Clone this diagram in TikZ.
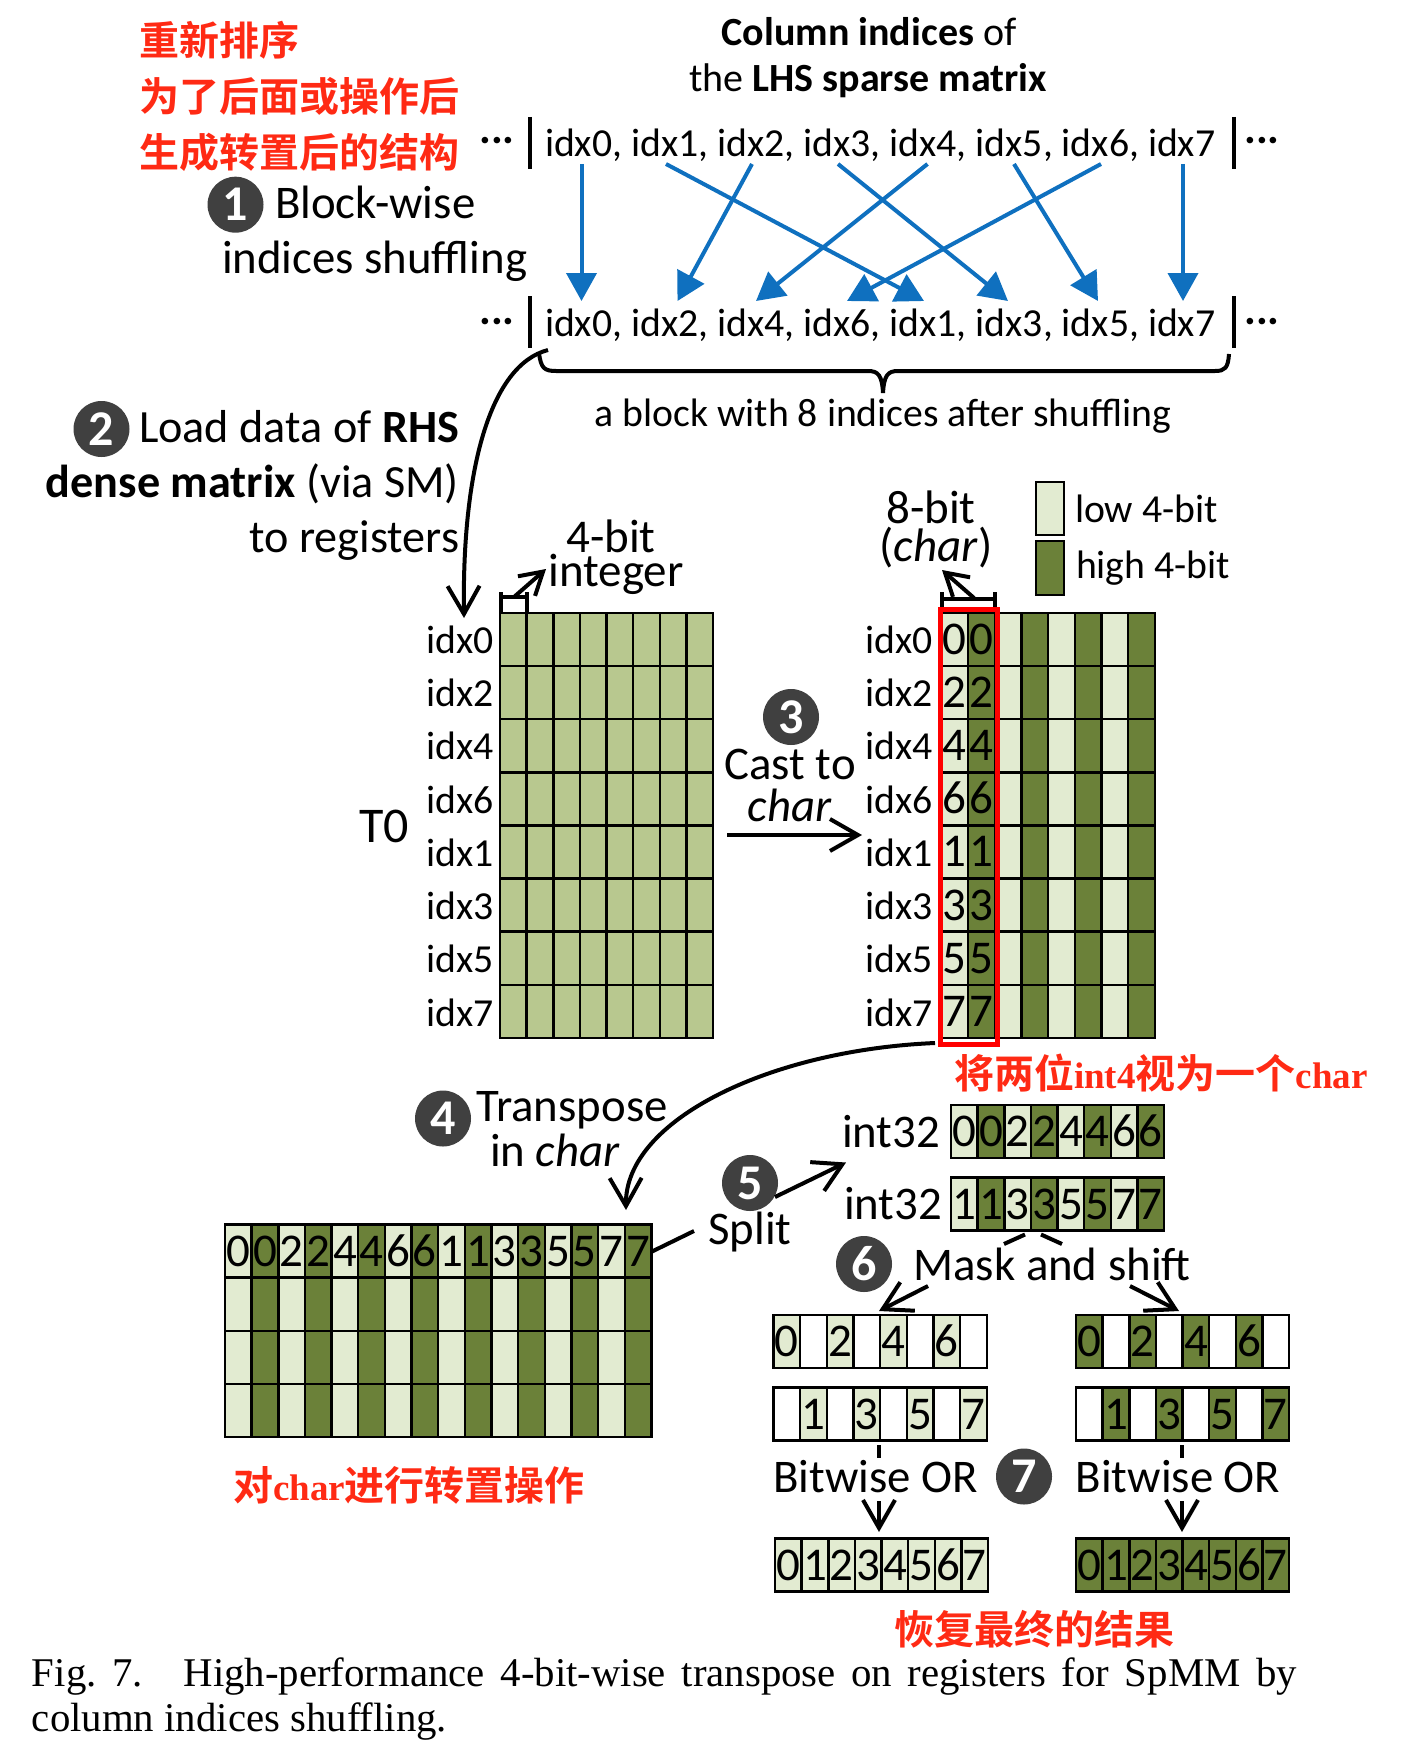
\documentclass[tikz,border=0pt]{standalone}
\usepackage{fontspec}
\setmainfont{Carlito}
\newfontfamily\capfont{Liberation Serif}
\newfontfamily\cjk[BoldFont={Noto Sans CJK SC Bold}]{Noto Sans CJK SC}
\newcommand{\latinnote}{\capfont\fontsize{18.5}{24}\selectfont}
\newcommand{\hannote}{\cjk\fontsize{20}{24}\selectfont}
\usetikzlibrary{arrows.meta}
\definecolor{lowbit}{HTML}{E2EBD1}
\definecolor{highbit}{HTML}{6B8139}
\definecolor{midbit}{HTML}{B8C88F}
\definecolor{shuffleblue}{HTML}{0F70BF}
\definecolor{noteorange}{HTML}{FF2A14}
\definecolor{stepgray}{HTML}{404040}
\tikzset{
  lbl/.style={inner sep=0pt, outer sep=0pt, font=\fontsize{23.4}{27}\selectfont},
  loadlbl/.style={inner sep=0pt, outer sep=0pt, font=\fontsize{23.1}{27}\selectfont},
  idxlbl/.style={inner sep=0pt, outer sep=0pt, font=\fontsize{19.85}{24}\selectfont},
  titlelbl/.style={inner sep=0pt, outer sep=0pt, font=\fontsize{20}{24}\selectfont},
  bitlbl/.style={inner sep=0pt, outer sep=0pt, font=\fontsize{23.5}{26}\selectfont},
  dotslbl/.style={inner sep=0pt, outer sep=0pt, font=\fontsize{22}{26}\selectfont\bfseries},
  note/.style={inner sep=0pt, outer sep=0pt, text=noteorange, font=\bfseries},
  stepdot/.style={circle, fill=stepgray, text=white, inner sep=0pt, outer sep=0pt, minimum size=28pt, font=\fontsize{25}{28}\selectfont\bfseries},
  cell/.style={draw=black, line width=1.2pt, inner sep=0pt, outer sep=0pt, minimum width=13.325pt, minimum height=26.55pt, text height=15pt, text depth=0pt, font=\fontsize{23.5}{26}\selectfont},
  bluearrow/.style={draw=shuffleblue, line width=2pt, -{Triangle[length=14pt,width=15pt]}},
  openarrow/.style={draw=black, line width=2pt, -{Straight Barb[length=14pt,width=16pt]}},
  shortarrow/.style={draw=black, line width=2pt, -{Straight Barb[length=11pt,width=13pt]}},
  plainline/.style={draw=black, line width=2pt}
}
\newcommand{\regrow}[4]{
  \foreach \c/\d [count=\i from 0] in {#4} {
    \node[cell, fill=\c, anchor=north west] (#1c\i) at (#2+\i*26.65,#3) {\d};
  }
}
\begin{document}
\begin{tikzpicture}[x=0.5pt,y=-0.5pt]
  \useasboundingbox (0,0) rectangle (1420,1744);

  \node[note, anchor=west] (notea) at (139,40) {\hannote 重新排序};
  \node[note, anchor=west] (noteb) at (139,96) {\hannote 为了后面或操作后};
  \node[note, anchor=west] (notec) at (139,152) {\hannote 生成转置后的结构};

  \node[titlelbl] (titlea) at (869,32) {\textbf{Column indices} of};
  \node[titlelbl] (titleb) at (868,81) {the \textbf{LHS sparse matrix}};

  \node[idxlbl, anchor=west] (toprow) at (545,145) {idx0, idx1, idx2, idx3, idx4, idx5, idx6, idx7};
  \node[idxlbl, anchor=west] (botrow) at (545,325) {idx0, idx2, idx4, idx6, idx1, idx3, idx5, idx7};
  \node[dotslbl] (topdotsl) at (497,141) {...};
  \node[dotslbl] (topdotsr) at (1262,141) {...};
  \node[dotslbl] (botdotsl) at (497,322) {...};
  \node[dotslbl] (botdotsr) at (1262,322) {...};

  \coordinate (topbarla) at (530,117);
  \coordinate (topbarlb) at (530,169);
  \coordinate (topbarra) at (1234,117);
  \coordinate (topbarrb) at (1234,169);
  \coordinate (botbarla) at (530,296);
  \coordinate (botbarlb) at (530,348);
  \coordinate (botbarra) at (1234,296);
  \coordinate (botbarrb) at (1234,348);
  \draw[plainline] (topbarla) -- (topbarlb);
  \draw[plainline] (topbarra) -- (topbarrb);
  \draw[plainline] (botbarla) -- (botbarlb);
  \draw[plainline] (botbarra) -- (botbarrb);

  \foreach \a/\sx/\tx in {0/581.5/581.5, 1/666/924, 2/752/677.5, 3/838/1008, 4/927.5/756, 5/1014/1098, 6/1101/847, 7/1183/1183} {
    \coordinate (src\a) at (\sx,164);
    \coordinate (dst\a) at (\tx,301);
    \draw[bluearrow] (src\a) -- (dst\a);
  }

  \node[stepdot] (stepa) at (235.5,204.7) {1};
  \node[lbl, anchor=west] (blockwise) at (275,202) {Block-wise};
  \node[lbl, anchor=west] (shufflelbl) at (222,261) {indices shuffling};

  \draw[plainline] (539,353) .. controls (541,368) and (544,371) .. (556,371) -- (868,371) .. controls (878,371) and (882,375) .. (883,393) .. controls (884,375) and (888,371) .. (898,371) -- (1215,371) .. controls (1225,371) and (1228,368) .. (1229,354);
  \node[idxlbl] (blocklbl) at (883,416) {a block with 8 indices after shuffling};

  \node[stepdot] (stepb) at (101.5,429) {2};
  \node[loadlbl, anchor=east] (loadtxt) at (459,427) {Load data of \textbf{RHS}};
  \node[loadlbl, anchor=east] (densetxt) at (459,484) {\textbf{dense matrix} (via SM)};
  \node[loadlbl, anchor=east] (regtxt) at (459,541) {to registers};
  \coordinate (loadsrc) at (548,350);
  \coordinate (loaddst) at (464,618);
  \draw[openarrow] (loadsrc) .. controls (490,365) and (462,470) .. (loaddst);

  \node[bitlbl] (fourbit) at (611,536) {4-bit};
  \node[bitlbl] (integer) at (616,574) {integer};
  \coordinate (intbara) at (501,592);
  \coordinate (intbarb) at (501,612);
  \coordinate (intbarc) at (527,592);
  \coordinate (intbard) at (527,612);
  \coordinate (intmida) at (501,597);
  \coordinate (intmidb) at (527,597);
  \draw[plainline] (intbara) -- (intbarb);
  \draw[plainline] (intbarc) -- (intbard);
  \draw[plainline] (intmida) -- (intmidb);
  \coordinate (intsrc) at (514,597);
  \coordinate (intdst) at (546,569);
  \draw[shortarrow] (intsrc) -- (intdst);

  \foreach \n [count=\r from 0] in {0,2,4,6,1,3,5,7} {
    \node[idxlbl, anchor=east] (lefta\r) at (494,639.5+\r*53.3) {idx\n};
    \node[idxlbl, anchor=east] (righta\r) at (933,639.5+\r*53.3) {idx\n};
    \regrow{leftr\r}{500}{613+\r*53.1}{midbit/{},midbit/{},midbit/{},midbit/{},midbit/{},midbit/{},midbit/{},midbit/{}}
    \regrow{rightr\r}{941.5}{613+\r*53.1}{lowbit/\n,highbit/\n,lowbit/{},highbit/{},lowbit/{},highbit/{},lowbit/{},highbit/{}}
  }
  \node[lbl, font=\fontsize{25}{28}\selectfont] (tzero) at (384,826) {T0};

  \node[bitlbl] (eightbit) at (931,507) {8-bit};
  \node[bitlbl] (charlbl) at (936,548) {(\textit{char})};
  \coordinate (chbara) at (942,592);
  \coordinate (chbarb) at (942,607);
  \coordinate (chbarc) at (995,592);
  \coordinate (chbard) at (995,607);
  \coordinate (chmida) at (942,599);
  \coordinate (chmidb) at (995,599);
  \draw[plainline] (chbara) -- (chbarb);
  \draw[plainline] (chbarc) -- (chbard);
  \draw[plainline] (chmida) -- (chmidb);
  \coordinate (chsrc) at (974,598);
  \coordinate (chdst) at (942,570);
  \draw[shortarrow] (chsrc) -- (chdst);

  \node[draw=black, line width=1.2pt, fill=lowbit, minimum width=14pt, minimum height=26.4pt, inner sep=0pt, outer sep=0pt] (lowbox) at (1050,508.5) {};
  \node[draw=black, line width=1.2pt, fill=highbit, minimum width=14pt, minimum height=26.9pt, inner sep=0pt, outer sep=0pt] (highbox) at (1050,568) {};
  \node[idxlbl, anchor=west] (lowlbl) at (1075,508.5) {low 4-bit};
  \node[idxlbl, anchor=west] (highlbl) at (1076,568) {high 4-bit};

  \draw[draw=red, line width=2.5pt] (940,609) rectangle (997,1044);

  \node[stepdot] (stepc) at (791,717) {3};
  \node[lbl] (castlbl) at (790,764) {Cast to};
  \node[lbl] (castchar) at (790,805) {\textit{char}};
  \coordinate (castsrc) at (727,835);
  \coordinate (castdst) at (862,835);
  \draw[openarrow] (castsrc) -- (castdst);

  \node[note, anchor=west] (notechar) at (954,1073) {\hannote 将两位\latinnote int4\hannote 视为一个\latinnote char};

  \coordinate (transsrc) at (935,1043);
  \coordinate (transdst) at (626,1210);
  \draw[openarrow] (transsrc) .. controls (770,1050) and (625,1120) .. (transdst);
  \node[stepdot] (stepd) at (443,1118.5) {4};
  \node[lbl] (translbl) at (572,1110) {Transpose};
  \node[lbl] (inchar) at (555,1150) {in \textit{char}};

  \regrow{transa}{225}{1224.5}{lowbit/0,highbit/0,lowbit/2,highbit/2,lowbit/4,highbit/4,lowbit/6,highbit/6,lowbit/1,highbit/1,lowbit/3,highbit/3,lowbit/5,highbit/5,lowbit/7,highbit/7}
  \foreach \r in {1,2,3} {
    \regrow{transb\r}{225}{1224.5+\r*53.1}{lowbit/{},highbit/{},lowbit/{},highbit/{},lowbit/{},highbit/{},lowbit/{},highbit/{},lowbit/{},highbit/{},lowbit/{},highbit/{},lowbit/{},highbit/{},lowbit/{},highbit/{}}
  }
  \node[note, anchor=west] (notetrans) at (233,1485) {\hannote 对\latinnote char\hannote 进行转置操作};

  \coordinate (splitsrc) at (651,1252);
  \coordinate (splitmid) at (694,1231);
  \draw[plainline] (splitsrc) -- (splitmid);
  \node[lbl] (splitlbl) at (750,1232) {Split};
  \node[stepdot] (stepe) at (750,1183) {5};
  \coordinate (splitarra) at (775,1197);
  \coordinate (splitarrb) at (846,1162.5);
  \draw[openarrow] (splitarra) -- (splitarrb);

  \node[lbl, anchor=east] (inta) at (940,1132) {int32};
  \node[lbl, anchor=east] (intb) at (942,1204) {int32};
  \regrow{rega}{951}{1105}{lowbit/0,highbit/0,lowbit/2,highbit/2,lowbit/4,highbit/4,lowbit/6,highbit/6}
  \regrow{regb}{951}{1177.5}{lowbit/1,highbit/1,lowbit/3,highbit/3,lowbit/5,highbit/5,lowbit/7,highbit/7}

  \coordinate (maska) at (1004,1244);
  \coordinate (maskb) at (1025,1234.5);
  \coordinate (maskc) at (1041,1234.5);
  \coordinate (maskd) at (1062,1244);
  \draw[plainline] (maska) -- (maskb);
  \draw[plainline] (maskc) -- (maskd);
  \node[stepdot] (stepf) at (864,1264) {6};
  \node[lbl] (masklbl) at (1052,1264) {Mask and shift};
  \coordinate (maskla) at (928,1286);
  \coordinate (masklb) at (879,1311);
  \coordinate (maskra) at (1130,1286);
  \coordinate (maskrb) at (1179,1311);
  \draw[openarrow] (maskla) -- (masklb);
  \draw[openarrow] (maskra) -- (maskrb);

  \regrow{lowa}{773.5}{1315}{lowbit/0,white/{},lowbit/2,white/{},lowbit/4,white/{},lowbit/6,white/{}}
  \regrow{lowb}{773.5}{1387.5}{white/{},lowbit/1,white/{},lowbit/3,white/{},lowbit/5,white/{},lowbit/7}
  \regrow{higha}{1076}{1315}{highbit/0,white/{},highbit/2,white/{},highbit/4,white/{},highbit/6,white/{}}
  \regrow{highb}{1076}{1387.5}{white/{},highbit/1,white/{},highbit/3,white/{},highbit/5,white/{},highbit/7}

  \coordinate (orla) at (879,1445);
  \coordinate (orlb) at (879,1458);
  \coordinate (orra) at (1182,1445);
  \coordinate (orrb) at (1182,1458);
  \draw[plainline] (orla) -- (orlb);
  \draw[plainline] (orra) -- (orrb);
  \node[lbl] (orleft) at (875.5,1476.5) {Bitwise OR};
  \node[lbl] (orright) at (1178,1476.5) {Bitwise OR};
  \node[stepdot] (stepg) at (1024,1476.5) {7};
  \coordinate (orlc) at (879,1501);
  \coordinate (orld) at (879,1532);
  \coordinate (orrc) at (1182,1501);
  \coordinate (orrd) at (1182,1532);
  \draw[openarrow] (orlc) -- (orld);
  \draw[openarrow] (orrc) -- (orrd);

  \regrow{reslow}{775}{1538.5}{lowbit/0,lowbit/1,lowbit/2,lowbit/3,lowbit/4,lowbit/5,lowbit/6,lowbit/7}
  \regrow{reshigh}{1076}{1538.5}{highbit/0,highbit/1,highbit/2,highbit/3,highbit/4,highbit/5,highbit/6,highbit/7}

  \node[note] (noteres) at (1034,1629) {\hannote 恢复最终的结果};

  \node[inner sep=0pt, outer sep=0pt, anchor=north west, text width=632.5pt, align=justify, font=\capfont\fontsize{20.4}{22.5}\selectfont] (caption) at (32,1658) {\frenchspacing Fig. 7.\quad High-performance 4-bit-wise transpose on registers for SpMM by\linebreak column indices shuffling.};
\end{tikzpicture}
\end{document}
